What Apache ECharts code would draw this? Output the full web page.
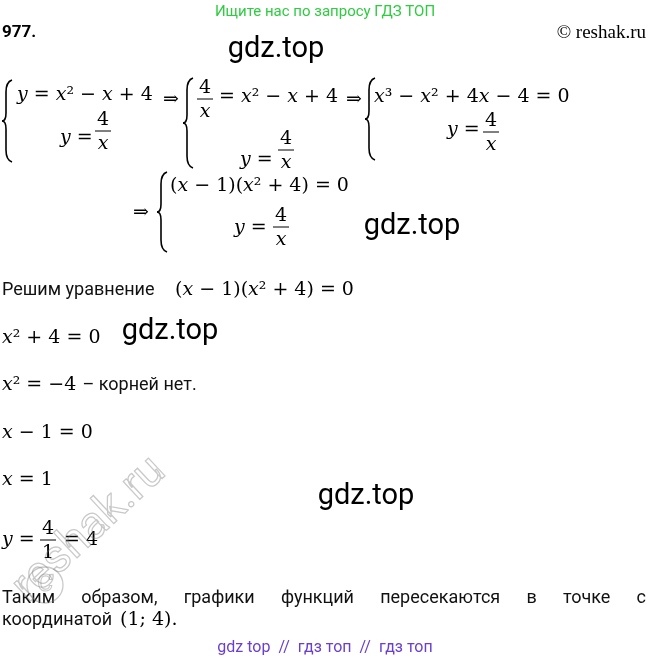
<!DOCTYPE html>
<html><head><meta charset="utf-8">
<script src="https://cdn.jsdelivr.net/npm/echarts@6/dist/echarts.min.js"></script>
<style>html,body{margin:0;padding:0;background:#fff}#c{width:650px;height:662px}</style>
</head><body><div id="c"></div>
<script>
// text content
const header = "Ищите нас по запросу ГДЗ ТОП";
const problemNo = "977.";
const copyright = "© reshak.ru";
const footer = "gdz top  //  гдз топ  //  гдз топ";
const watermarks = ["gdz.top","gdz.top","gdz.top","gdz.top"];
// math lines: [text, x, y]
const mathLines = [
  ["y = x² − x + 4", 17, 95],
  ["y = ", 60, 138],
  ["⇒", 163, 100],
  ["= x² − x + 4", 219, 97],
  ["y = ", 240, 160],
  ["⇒", 346, 100],
  ["x³ − x² + 4x − 4 = 0", 374, 97],
  ["y = ", 447, 130],
  ["⇒", 133, 213],
  ["(x − 1)(x² + 4) = 0", 170, 186],
  ["y = ", 234, 228],
  ["x² + 4 = 0", 2, 338],
  ["x² = −4", 2, 385],
  ["x − 1 = 0", 2, 433],
  ["x = 1", 2, 480],
  ["y = ", 2, 540],
  ["= 4", 64, 540]
];
// fractions: [num, den, cx, lineY]
const fractions = [
  ["4","x",103,131],["4","x",205,99],["4","x",286,150],["4","x",491,132],["4","x",281,227],["4","1",48,540]
];
// braces: [x, yTop, height]
const braces = [[3,80,82],[184,78,90],[366,78,82],[158,172,80]];
const textLines = [
  ["Решим уравнение ", 2, 290],
  [" – корней нет.", 78, 385],
  ["координатой ", 2, 620]
];
const justifiedWords = ["Таким","образом,","графики","функций","пересекаются","в","точке","с"];
const extraMath = [["(x − 1)(x² + 4) = 0", 175, 290],["(1; 4).", 120, 620]];

function rich(s){return s.replace(/([xy])/g,'{i|$1}');}
const mathFont = {fontFamily:'DejaVu Serif',fontSize:19,fill:'#000',rich:{i:{fontFamily:'DejaVu Serif',fontStyle:'italic',fontSize:19}}};
const g = [];
function mtext(s,x,y){g.push({type:'text',x:x,y:y,style:Object.assign({text:rich(s),textVerticalAlign:'middle'},mathFont)});}
mathLines.forEach(l=>mtext(l[0],l[1],l[2]));
extraMath.forEach(l=>mtext(l[0],l[1],l[2]));
fractions.forEach(f=>{
  g.push({type:'text',x:f[2],y:f[3]-11,style:Object.assign({text:rich(f[0]),textAlign:'center',textVerticalAlign:'middle'},mathFont)});
  g.push({type:'text',x:f[2],y:f[3]+13,style:Object.assign({text:rich(f[1]),textAlign:'center',textVerticalAlign:'middle'},mathFont)});
  g.push({type:'line',shape:{x1:f[2]-8,y1:f[3],x2:f[2]+8,y2:f[3]},style:{stroke:'#000',lineWidth:1}});
});
const bs={stroke:'#000',fill:null,lineWidth:1.6};
braces.forEach(b=>{
  const x=b[0],t=b[1],h=b[2],m=t+h/2;
  g.push({type:'bezierCurve',shape:{x1:x+9,y1:t,cpx1:x+3,cpy1:t+2,x2:x+3,y2:t+12},style:bs});
  g.push({type:'line',shape:{x1:x+3,y1:t+12,x2:x+3,y2:m-8},style:bs});
  g.push({type:'bezierCurve',shape:{x1:x+3,y1:m-8,cpx1:x+3,cpy1:m,x2:x-1,y2:m},style:bs});
  g.push({type:'bezierCurve',shape:{x1:x-1,y1:m,cpx1:x+3,cpy1:m,x2:x+3,y2:m+8},style:bs});
  g.push({type:'line',shape:{x1:x+3,y1:m+8,x2:x+3,y2:t+h-12},style:bs});
  g.push({type:'bezierCurve',shape:{x1:x+3,y1:t+h-12,cpx1:x+3,cpy1:t+h-2,x2:x+9,y2:t+h},style:bs});
});
const tf={fontFamily:'Roboto',fontSize:18,fill:'#111',textVerticalAlign:'middle'};
textLines.forEach(l=>g.push({type:'text',x:l[1],y:l[2],style:Object.assign({text:l[0]},tf)}));
// justified line
const ctx=document.createElement('canvas').getContext('2d');ctx.font='18px Roboto';
const ws=justifiedWords.map(w=>ctx.measureText(w).width);
const total=ws.reduce((a,b)=>a+b,0);const gap=(646-2-total)/(justifiedWords.length-1);
let cx=2;justifiedWords.forEach((w,i)=>{g.push({type:'text',x:cx,y:598,style:Object.assign({text:w},tf)});cx+=ws[i]+gap;});
g.push({type:'text',x:325,y:12,style:{text:header,fontFamily:'Roboto',fontSize:15,fill:'#2ecc40',textAlign:'center',textVerticalAlign:'middle'}});
g.push({type:'text',x:2,y:33,style:{text:problemNo,fontFamily:'Roboto',fontWeight:'bold',fontSize:17,fill:'#000',textVerticalAlign:'middle'}});
g.push({type:'text',x:646,y:33,style:{text:copyright,fontFamily:'Liberation Serif',fontSize:19,fill:'#000',textAlign:'right',textVerticalAlign:'middle'}});
g.push({type:'text',x:325,y:648,style:{text:footer,fontFamily:'Roboto',fontSize:16,fill:'#6a3fd0',textAlign:'center',textVerticalAlign:'middle'}});
const wmPos=[[276,50],[412,227],[170,332],[366,497]];
watermarks.forEach((w,i)=>g.push({type:'text',x:wmPos[i][0],y:wmPos[i][1],style:{text:w,fontFamily:'Roboto',fontSize:29,fill:'#000',textAlign:'center',textVerticalAlign:'middle'}}));
g.push({type:'text',x:90,y:530,rotation:0.75,style:{text:'reshak.ru',fontFamily:'Roboto',fontSize:46,fill:'rgba(0,0,0,0)',stroke:'rgba(120,120,120,0.4)',lineWidth:1.3,textAlign:'center',textVerticalAlign:'middle'}});
g.push({type:'circle',shape:{cx:45,cy:585,r:18},style:{fill:null,stroke:'rgba(120,120,120,0.4)',lineWidth:1.3}});
g.push({type:'text',x:45,y:585,style:{text:'C',fontFamily:'Roboto',fontSize:24,fill:'rgba(0,0,0,0)',stroke:'rgba(120,120,120,0.4)',lineWidth:1.1,textAlign:'center',textVerticalAlign:'middle'}});
const chart = echarts.init(document.getElementById('c'));
chart.setOption({animation:false,graphic:{elements:g}});
</script></body></html>
